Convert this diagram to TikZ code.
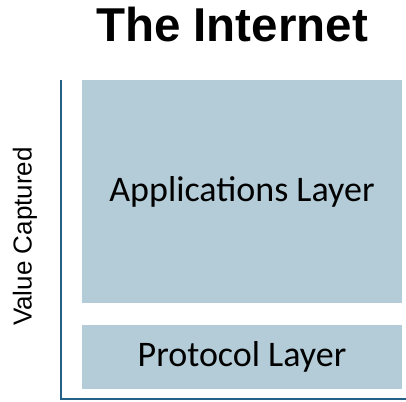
\documentclass[tikz,border=0pt]{standalone}
\usepackage{fontspec}
\setmainfont{Liberation Sans}
\newfontfamily\layerfont{Carlito}
\usetikzlibrary{positioning}
\definecolor{layerfill}{RGB}{180,204,216}
\definecolor{axisblue}{RGB}{37,96,135}
\tikzset{
  layerbox/.style={fill=layerfill, inner sep=0pt, minimum width=320pt,
    font=\layerfont\fontsize{36}{40}\selectfont},
  axisline/.style={draw=axisblue, line width=2.2pt}
}

\begin{document}
\begin{tikzpicture}[x=1pt, y=-1pt]
    \useasboundingbox (0,0) rectangle (406,401);
    \node[font=\bfseries\fontsize{47.5}{52}\selectfont] (title) at (232,25) {The Internet};
    \node[layerbox, minimum height=223pt] (apps) at (242,191.5) {Applications Layer};
    \node[layerbox, minimum height=64pt] (proto) at (242,357) {Protocol Layer};
    \node[rotate=90, font=\fontsize{26}{28}\selectfont] (value) at (25,236.5) {Value Captured};
    \coordinate (top) at (61,80);
    \coordinate (corner) at (61,399);
    \coordinate (end) at (406,399);
    \draw[axisline] (top) -- (corner) -- (end);
  \end{tikzpicture}
\end{document}
